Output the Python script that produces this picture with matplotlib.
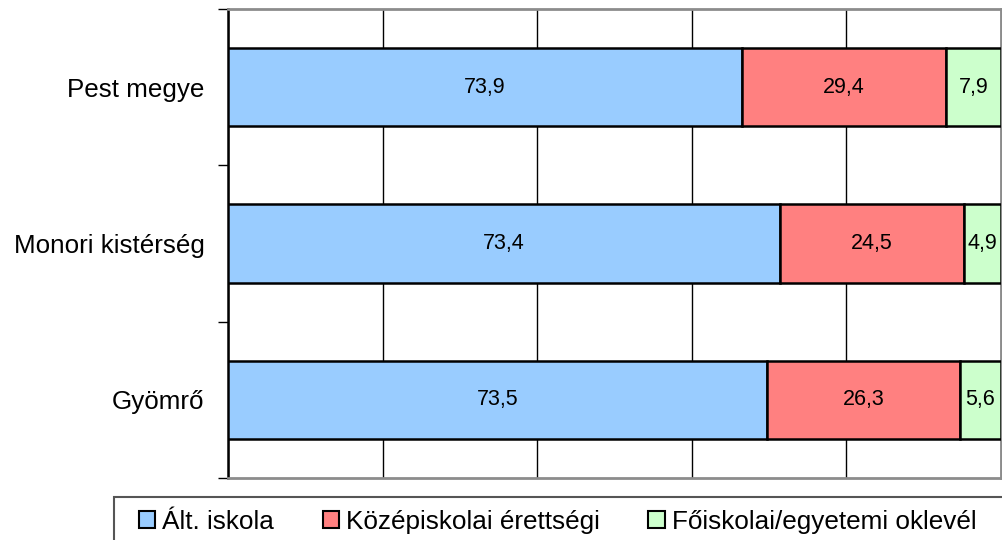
import numpy as np
import matplotlib.pyplot as plt
from matplotlib.patches import Patch, Rectangle
plt.rcParams['font.family'] = ['Liberation Sans', 'DejaVu Sans']

regions = ["Gyömrő", "Monori kistérség", "Pest megye"]
alt_iskola = [73.5, 73.4, 73.9]
kozep = [26.3, 24.5, 29.4]
foiskola = [5.6, 4.9, 7.9]
series_names = ["Ált. iskola", "Középiskolai érettségi", "Főiskolai/egyetemi oklevél"]
colors = ["#99CCFF", "#FF8080", "#CCFFCC"]

data = np.array([alt_iskola, kozep, foiskola])
totals = data.sum(axis=0)
shares = data / totals * 100

fig = plt.figure(figsize=(10.03, 5.40), dpi=100)
ax = fig.add_axes([228 / 1003, 1 - 478 / 540, 773 / 1003, 469 / 540])

y = np.arange(len(regions))
left = np.zeros(len(regions))
for vals, share, col in zip(data, shares, colors):
    ax.barh(y, share, left=left, height=0.5, color=col, edgecolor='black', linewidth=1.8, zorder=3)
    for yi, l, s, v in zip(y, left, share, vals):
        ax.text(l + s / 2, yi, f"{v:.1f}".replace('.', ','), ha='center', va='center',
                fontsize=15.5, zorder=4)
    left += share

ax.set_xlim(0, 100)
ax.set_ylim(-0.5, 2.5)
ax.set_xticks(np.arange(0, 101, 20))
ax.tick_params(axis='x', length=0, labelbottom=False)
ax.xaxis.grid(True, color='black', linewidth=1, zorder=0)

ax.set_yticks([-0.5, 0.5, 1.5, 2.5])
ax.set_yticklabels([])
ax.tick_params(axis='y', which='major', length=7, width=1, direction='out', color='black')
ax.set_yticks(y, minor=True)
ax.set_yticklabels(regions, minor=True, fontsize=18.7)
ax.tick_params(axis='y', which='minor', length=0, pad=17)

for s in ['top', 'bottom', 'right']:
    ax.spines[s].set_color('#8c8c8c')
    ax.spines[s].set_linewidth(2)
ax.spines['left'].set_color('black')
ax.spines['left'].set_linewidth(1.8)

# legend box runs off the bottom/right edge like in the original
fig.patches.append(Rectangle((114 / 1003, -0.1), 1.0, 0.1 + 43 / 540, transform=fig.transFigure,
                             facecolor='white', edgecolor='#555555', linewidth=1.5))
handles = [Patch(facecolor=c, edgecolor='black', linewidth=1.5) for c in colors]
leg = fig.legend(handles, series_names, loc='center left', ncol=3,
                 bbox_to_anchor=(139 / 1003, 1 - 522 / 540), fontsize=18.8,
                 frameon=False, handlelength=0.62, handleheight=0.62, handletextpad=0.28,
                 columnspacing=1.85, borderpad=0, borderaxespad=0)

fig.savefig("out.png", dpi=100)
